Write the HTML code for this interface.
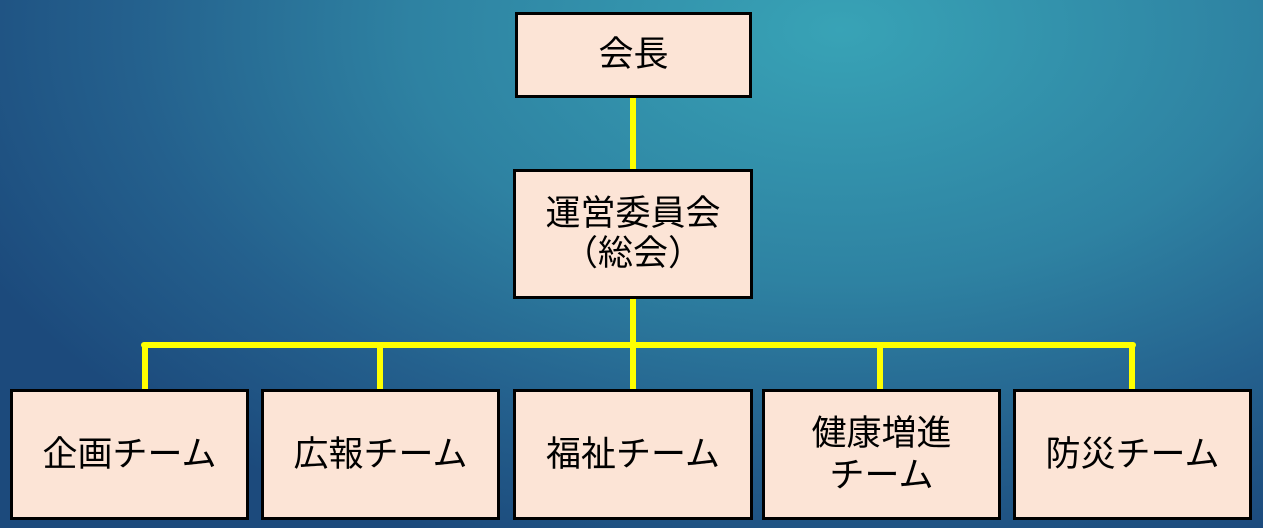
<!DOCTYPE html>
<html><head><meta charset="utf-8"><style>
html,body{margin:0;padding:0}
body{width:1263px;height:528px;position:relative;overflow:hidden;
background:radial-gradient(ellipse 950px 560px at 840px 30px,#38a3b6 0%,#2e82a2 45%,#24608d 75%,#1c4a7c 100%);
font-family:"Liberation Sans","Noto Sans CJK JP",sans-serif;}
.b{position:absolute;box-sizing:border-box;background:#fce4d6;border:3px solid #000;display:flex;align-items:center;justify-content:center;text-align:center;font-size:35px;line-height:42px;color:#000}
.l{position:absolute;background:#ffff00;border-radius:3px}
</style></head><body>
<div class="l" style="left:630px;top:95px;width:6px;height:78px"></div>
<div class="l" style="left:630px;top:295px;width:6px;height:98px"></div>
<div class="l" style="left:141px;top:342px;width:995px;height:6px"></div>
<div class="l" style="left:142px;top:342px;width:6px;height:51px"></div>
<div class="l" style="left:377px;top:342px;width:6px;height:51px"></div>
<div class="l" style="left:877px;top:342px;width:6px;height:51px"></div>
<div class="l" style="left:1129px;top:342px;width:6px;height:51px"></div>
<div class="b" style="left:515px;top:12px;width:237px;height:86px">会長</div>
<div class="b" style="left:513px;top:169px;width:240px;height:130px;line-height:40px">運営委員会<br>（総会）</div>
<div class="b" style="left:10px;top:389px;width:239px;height:131px">企画チーム</div>
<div class="b" style="left:261px;top:389px;width:239px;height:131px">広報チーム</div>
<div class="b" style="left:513px;top:389px;width:240px;height:131px">福祉チーム</div>
<div class="b" style="left:762px;top:389px;width:239px;height:131px">健康増進<br>チーム</div>
<div class="b" style="left:1013px;top:389px;width:239px;height:131px">防災チーム</div>
</body></html>
